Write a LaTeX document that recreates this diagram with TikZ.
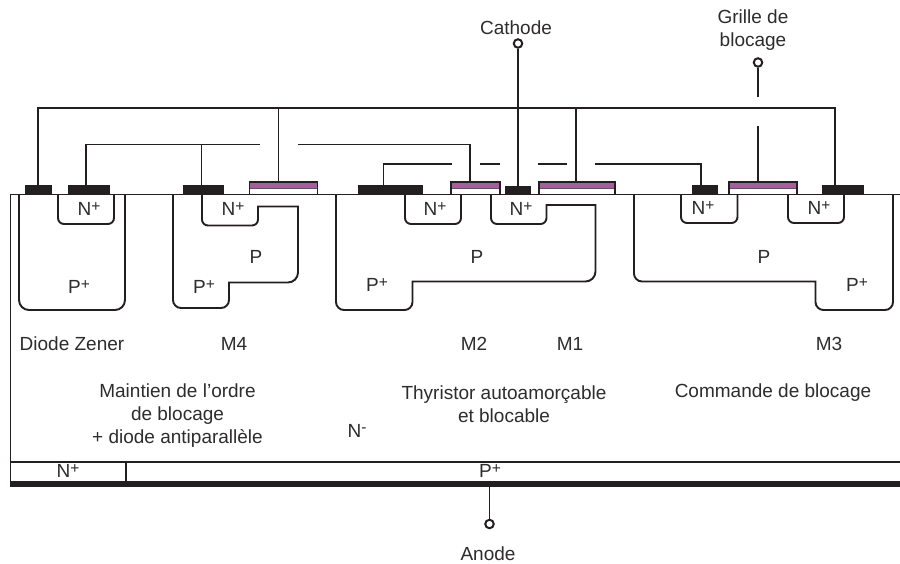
\documentclass[tikz,border=0pt]{standalone}
\usepackage{fontspec}
\setmainfont{Liberation Sans}
\definecolor{ink}{HTML}{231F20}
\definecolor{txt}{HTML}{2E2C2D}
\definecolor{gatepurple}{HTML}{A95C9E}
\newcommand{\Pl}{\raisebox{0.2em}{\fontsize{15.5}{15.5}\selectfont +}}
\newcommand{\Mi}{\raisebox{0.25em}{\fontsize{15.5}{15.5}\selectfont -}}
\tikzset{
  wire/.style={draw=ink,line width=1.9pt},
  region/.style={draw=ink,line width=1.9pt},
  pad/.style={fill=ink,draw=none},
  lbl/.style={text=txt,font=\fontsize{19}{23}\selectfont,inner sep=0pt,align=center,anchor=center},
  term/.style={circle,draw=ink,line width=2pt,fill=white,minimum size=8.5pt,inner sep=0pt},
}
\newcommand{\gatestack}[2]{%
  \fill[gatepurple] (#1,183) rectangle (#2,188);
  \draw[ink!75,line width=0.7pt] (#1,188.6) -- (#2,188.6);
  \draw[ink,line width=1.4pt] (#1,194.5) -- (#1,182) -- (#2,182) -- (#2,194.5);
}
\begin{document}
\begin{tikzpicture}[x=1pt,y=-1pt]
\useasboundingbox (0,0) rectangle (900,564);
\fill[white] (0,0) rectangle (900,564);

% substrate
\draw[region] (900,194.5) -- (10.5,194.5) -- (10.5,484);
\draw[region] (10.5,462) -- (900,462);
\draw[region] (126,462) -- (126,482);
\fill[ink] (9.5,481) rectangle (900,487);

% diffused regions
\draw[region,rounded corners=10pt] (19,194.5) -- (19,310) -- (125,310) -- (125,194.5);
\draw[region,rounded corners=6pt] (58,194.5) -- (58,224) -- (114,224) -- (114,194.5);

% M4 well: only the outer corners are rounded, the steps stay sharp
\draw[region] (173,194.5) -- (173,300) arc[start angle=180,end angle=270,radius=8pt]
  -- (221,308) arc[start angle=270,end angle=360,radius=8pt]
  -- (229,282.5) -- (288,282.5) arc[start angle=270,end angle=360,radius=10pt]
  -- (298,206.5) -- (258,206.5) -- (258,219.5) arc[start angle=0,end angle=-90,radius=6pt]
  -- (208,225.5) arc[start angle=270,end angle=180,radius=6pt] -- (202,194.5);

% M2/M1 well
\draw[region] (336,194.5) -- (336,302) arc[start angle=180,end angle=270,radius=8pt]
  -- (404.5,310) arc[start angle=270,end angle=360,radius=8pt]
  -- (412.5,281.5) -- (585.5,281.5) arc[start angle=270,end angle=360,radius=10pt]
  -- (595.5,205) -- (546.5,205) -- (546.5,218) arc[start angle=0,end angle=-90,radius=6pt]
  -- (497,224) arc[start angle=270,end angle=180,radius=6pt] -- (491,194.5);
\draw[region,rounded corners=6pt] (405,194.5) -- (405,224) -- (461,224) -- (461,194.5);

% M3 well
\draw[region] (634,194.5) -- (634,273.5) arc[start angle=180,end angle=270,radius=8pt]
  -- (815.5,281.5) -- (815.5,302) arc[start angle=180,end angle=270,radius=8pt]
  -- (885,310) arc[start angle=270,end angle=360,radius=8pt] -- (893,194.5);
\draw[region,rounded corners=6pt] (681,194.5) -- (681,223) -- (737.5,223) -- (737.5,194.5);
\draw[region,rounded corners=6pt] (788,194.5) -- (788,223) -- (844,223) -- (844,194.5);

% metal pads
\fill[pad] (25,185.5) rectangle (52,194.5);
\fill[pad] (67.5,185.5) rectangle (110,194.5);
\fill[pad] (183,185.5) rectangle (224,194.5);
\fill[pad] (358,185.5) rectangle (423,194.5);
\fill[pad] (505,186.5) rectangle (531,194.5);
\fill[pad] (692,185.5) rectangle (718,194.5);
\fill[pad] (822,185.5) rectangle (864,194.5);

% gates
\gatestack{249.5}{317.5}
\gatestack{451}{500}
\gatestack{539}{615}
\gatestack{729}{797}

% terminals
\node[term] (cath) at (518,43.5) {};
\node[term] (grille) at (758,62.5) {};
\node[term] (anode) at (489.5,524) {};
\coordinate (cathpad) at (518,187);
\coordinate (grilletop) at (758,97);
\coordinate (grillelow) at (758,126);
\coordinate (grillegate) at (758,182);
\coordinate (anodebar) at (489.5,487);

% wiring
\draw[wire] (cath) -- (cathpad);
\draw[wire] (grille) -- (grilletop);
\draw[wire] (grillelow) -- (grillegate);
\draw[wire] (anode) -- (anodebar);
% main bus
\draw[wire] (38,186) -- (38,108) -- (835,108) -- (835,186);
\draw[wire] (278.5,108) -- (278.5,182);
\draw[wire] (576,108) -- (576,182);
% second level
\draw[wire] (86,186) -- (86,144.5) -- (260,144.5);
\draw[wire] (201.5,144.5) -- (201.5,186);
\draw[wire] (298,144.5) -- (470,144.5) -- (470,182);
% third level
\draw[wire] (383.5,186) -- (383.5,164) -- (452,164);
\draw[wire] (480,164) -- (500,164);
\draw[wire] (538,164) -- (567,164);
\draw[wire] (595,164) -- (701,164) -- (701,186);

% labels
\node[lbl] (lcath) at (516,28) {Cathode};
\node[lbl] (lgrille) at (753,30.5) {Grille de\\blocage};
\node[lbl] (lanode) at (488,554) {Anode};

\node[lbl] (n1) at (89,209) {N\Pl};
\node[lbl] (n2) at (233,209) {N\Pl};
\node[lbl] (n3) at (435,209) {N\Pl};
\node[lbl] (n4) at (521,209) {N\Pl};
\node[lbl] (n5) at (703,208) {N\Pl};
\node[lbl] (n6) at (819,208) {N\Pl};
\node[lbl] (p1) at (79,287) {P\Pl};
\node[lbl] (p2) at (204,287) {P\Pl};
\node[lbl] (p3) at (377,285) {P\Pl};
\node[lbl] (p4) at (857,285) {P\Pl};
\node[lbl] (p5) at (256,257) {P};
\node[lbl] (p6) at (477,257) {P};
\node[lbl] (p7) at (764,257) {P};

\node[lbl] (dz) at (72,344) {Diode Zener};
\node[lbl] (m4) at (234,344) {M4};
\node[lbl] (m2) at (474,344) {M2};
\node[lbl] (m1) at (570,344) {M1};
\node[lbl] (m3) at (829,344) {M3};

\node[lbl] (t1) at (177.5,416) {Maintien de l'ordre\\de blocage\\+ diode antiparallèle};
\node[lbl] (t2) at (504,404) {Thyristor autoamorçable\\et blocable};
\node[lbl] (t3) at (773,393) {Commande de blocage};
\node[lbl] (nm) at (357,431) {N\Mi};
\node[lbl] (nb) at (68,471) {N\Pl};
\node[lbl] (pb) at (490,471) {P\Pl};
\end{tikzpicture}
\end{document}
